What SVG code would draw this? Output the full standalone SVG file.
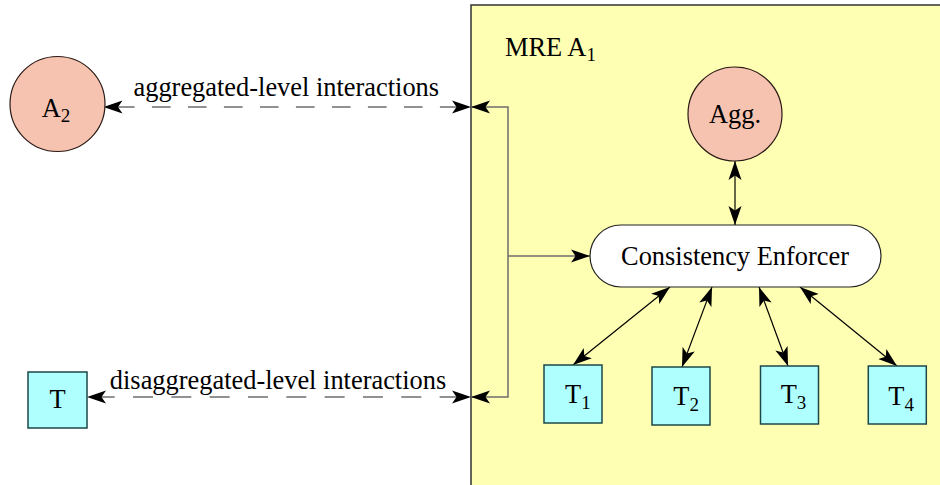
<svg xmlns="http://www.w3.org/2000/svg" width="940" height="485" viewBox="0 0 940 485">
  <style>
    .t { font-family: "Liberation Serif", "Times New Roman", serif; font-size: 26.4px; fill: #000; }
    .sub { font-size: 19px; }
    .circ { fill: #f7c3b1; stroke: #2a1a14; stroke-width: 1.2; }
    .box { fill: #b0ffff; stroke: #1c4848; stroke-width: 1.5; }
    .gray { fill: none; stroke: #6e6e6e; stroke-width: 1.5; }
    .dash1 { fill: none; stroke: #6e6e6e; stroke-width: 1.5; stroke-dasharray: 18.7 17.3; stroke-dashoffset: 23.6; }
    .dash2 { fill: none; stroke: #6e6e6e; stroke-width: 1.5; stroke-dasharray: 20 18.33; stroke-dashoffset: 30.67; }
    .blk { fill: none; stroke: #000; stroke-width: 1.2; }
  </style>
  <defs>
    <marker id="ah" markerUnits="userSpaceOnUse" markerWidth="20" markerHeight="14" refX="19" refY="6.5" orient="auto-start-reverse" viewBox="0 0 20 13">
      <path d="M0,0 L19,6.5 L0,13 L4.5,6.5 z" fill="#000"/>
    </marker>
  </defs>
  <rect width="940" height="485" fill="#fff"/>

  <g id="mre">
    <rect x="471" y="5" width="480" height="490" fill="#ffffb3" stroke="#333" stroke-width="1.5"/>
    <text class="t" x="505" y="56">MRE A<tspan class="sub" dy="5">1</tspan></text>
  </g>

  <g id="connectors">
    <path class="dash1" d="M103.5,107 H471" marker-start="url(#ah)" marker-end="url(#ah)"/>
    <path class="dash2" d="M87,397 H471" marker-start="url(#ah)" marker-end="url(#ah)"/>
    <path class="gray" d="M471,107 H508 V397 H471" marker-start="url(#ah)" marker-end="url(#ah)"/>
    <path class="gray" d="M508,256 H590" marker-end="url(#ah)"/>
    <path class="blk" d="M735,161 V225" marker-start="url(#ah)" marker-end="url(#ah)"/>
    <path class="blk" d="M670,287 L573,365" marker-start="url(#ah)" marker-end="url(#ah)"/>
    <path class="blk" d="M712,287 L682,367" marker-start="url(#ah)" marker-end="url(#ah)"/>
    <path class="blk" d="M759,287 L788,366" marker-start="url(#ah)" marker-end="url(#ah)"/>
    <path class="blk" d="M800,287 L897,366" marker-start="url(#ah)" marker-end="url(#ah)"/>
    <text class="t" x="286.3" y="96" text-anchor="middle">aggregated-level interactions</text>
    <text class="t" x="278" y="388.5" text-anchor="middle">disaggregated-level interactions</text>
  </g>

  <g id="A2">
    <circle class="circ" cx="57.5" cy="104" r="47.5"/>
    <text class="t" x="41.7" y="116.5">A<tspan class="sub" dy="5">2</tspan></text>
  </g>

  <g id="T">
    <rect class="box" x="28" y="372" width="59" height="56"/>
    <text class="t" x="57.5" y="408" text-anchor="middle">T</text>
  </g>

  <g id="agg">
    <circle class="circ" cx="735" cy="114" r="47"/>
    <text class="t" x="735" y="122.7" text-anchor="middle">Agg.</text>
  </g>

  <g id="enforcer">
    <rect x="590" y="225" width="291" height="62" rx="31" ry="31" fill="#fff" stroke="#222" stroke-width="1.2"/>
    <text class="t" x="735" y="265" text-anchor="middle">Consistency Enforcer</text>
  </g>

  <g id="T1">
    <rect class="box" x="544" y="365" width="58" height="58"/>
    <text class="t" x="565" y="403.3">T<tspan class="sub" dy="5.5">1</tspan></text>
  </g>
  <g id="T2">
    <rect class="box" x="652" y="367" width="58" height="58"/>
    <text class="t" x="673.3" y="405">T<tspan class="sub" dy="5.5">2</tspan></text>
  </g>
  <g id="T3">
    <rect class="box" x="760.5" y="366" width="58" height="58"/>
    <text class="t" x="780.7" y="403.3">T<tspan class="sub" dy="5.5">3</tspan></text>
  </g>
  <g id="T4">
    <rect class="box" x="868.3" y="366" width="58" height="58"/>
    <text class="t" x="888.3" y="405">T<tspan class="sub" dy="5.5">4</tspan></text>
  </g>
</svg>
